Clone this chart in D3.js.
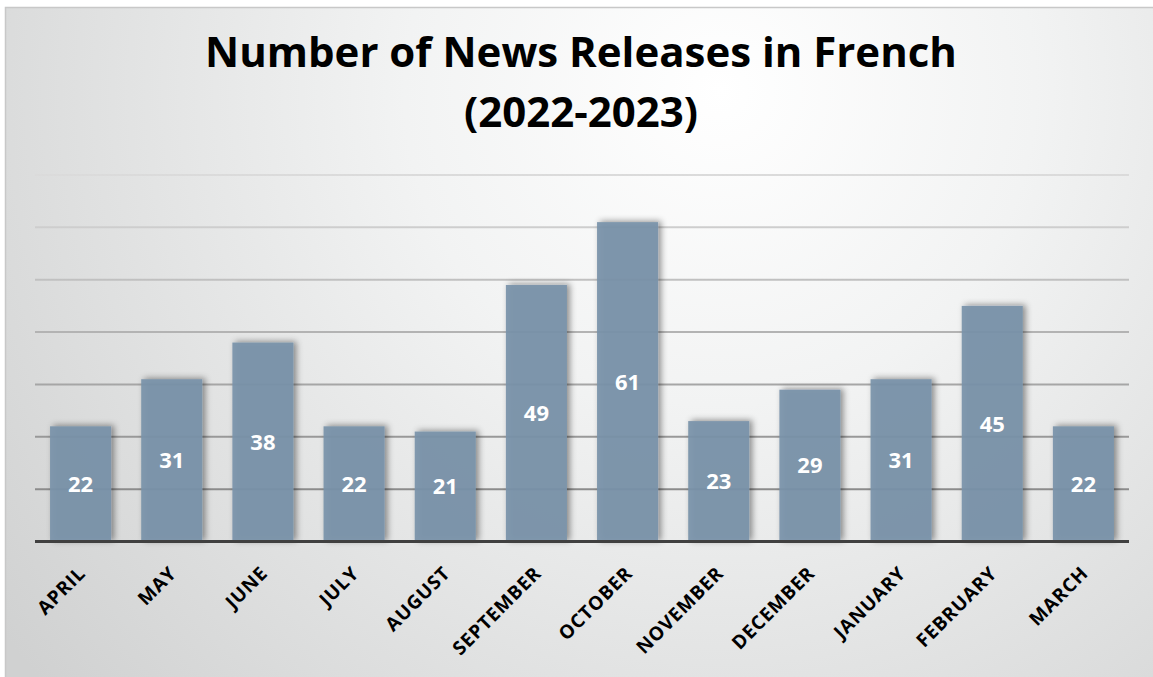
<!DOCTYPE html>
<html>
<head>
<meta charset="utf-8">
<script src="https://cdn.jsdelivr.net/npm/d3@7"></script>
<style>
  html, body { margin: 0; padding: 0; background: #ffffff; }
  svg { display: block; }
</style>
</head>
<body>
<svg id="chart" width="1153" height="677"></svg>
<script>
const months = ["APRIL", "MAY", "JUNE", "JULY", "AUGUST", "SEPTEMBER", "OCTOBER",
                "NOVEMBER", "DECEMBER", "JANUARY", "FEBRUARY", "MARCH"];
const releases = [22, 31, 38, 22, 21, 49, 61, 23, 29, 31, 45, 22];
const gridTicks = [10, 20, 30, 40, 50, 60, 70];
const titleLines = ["Number of News Releases in French", "(2022-2023)"];

const W = 1153, H = 677;
const svg = d3.select("#chart");
const defs = svg.append("defs");

const bg = defs.append("radialGradient").attr("id", "bg")
  .attr("gradientUnits", "userSpaceOnUse")
  .attr("cx", 720).attr("cy", 90).attr("r", 900);
bg.append("stop").attr("offset", "0").attr("stop-color", "#ffffff");
bg.append("stop").attr("offset", "0.35").attr("stop-color", "#f2f3f3");
bg.append("stop").attr("offset", "1").attr("stop-color", "#d0d1d1");

const gg = defs.append("linearGradient").attr("id", "gridGrad")
  .attr("gradientUnits", "userSpaceOnUse")
  .attr("x1", 0).attr("y1", 170).attr("x2", 0).attr("y2", 495);
gg.append("stop").attr("offset", "0").attr("stop-color", "#dcdcdc");
gg.append("stop").attr("offset", "1").attr("stop-color", "#8a8a8a");

const sh = defs.append("filter").attr("id", "shadow")
  .attr("x", "-30%").attr("y", "-30%").attr("width", "160%").attr("height", "160%");
sh.append("feDropShadow").attr("dx", 3).attr("dy", -1).attr("stdDeviation", 3)
  .attr("flood-color", "#000").attr("flood-opacity", 0.45);

svg.append("rect").attr("x", 0).attr("y", 0).attr("width", W).attr("height", H).attr("fill", "#ffffff");
svg.append("rect").attr("x", 5.5).attr("y", 7.5).attr("width", W + 10).attr("height", H + 10)
  .attr("fill", "url(#bg)").attr("stroke", "#c8c8c8").attr("stroke-width", 1.5);

const x = d3.scaleBand().domain(months).range([35, 1129]).paddingInner(0.33).paddingOuter(0.165);
const y = d3.scaleLinear().domain([0, 70]).range([541.5, 175]);

// gridlines
svg.append("g").selectAll("line").data(gridTicks).join("line")
  .attr("x1", 35).attr("x2", 1129)
  .attr("y1", d => y(d)).attr("y2", d => y(d))
  .attr("stroke", "url(#gridGrad)").attr("stroke-width", 2);

// bars
svg.append("g").selectAll("rect").data(releases).join("rect")
  .attr("x", (d, i) => x(months[i]))
  .attr("width", x.bandwidth())
  .attr("y", d => y(d))
  .attr("height", d => y(0) - y(d))
  .attr("fill", "#7a93a9")
  .attr("fill-opacity", 0.92)
  .attr("filter", "url(#shadow)");

// baseline axis
const xAxis = d3.axisBottom(x).tickSize(0).tickPadding(0);
const gx = svg.append("g").attr("transform", `translate(0,${y(0)})`).call(xAxis);
gx.select(".domain").attr("stroke", "#404040").attr("stroke-width", 3)
  .attr("d", "M35,0H1129");
gx.selectAll(".tick text")
  .attr("transform", "translate(6,33) rotate(-45)")
  .attr("text-anchor", "end")
  .attr("dy", 0)
  .attr("y", 0)
  .attr("font-family", "'Open Sans', sans-serif")
  .attr("font-weight", "bold")
  .attr("font-size", 19)
  .attr("letter-spacing", 0.8)
  .attr("fill", "#000");

// value labels
svg.append("g").selectAll("text").data(releases).join("text")
  .attr("x", (d, i) => x(months[i]) + x.bandwidth() / 2)
  .attr("y", d => (y(d) + y(0)) / 2 + 2)
  .attr("text-anchor", "middle")
  .attr("dominant-baseline", "middle")
  .attr("font-family", "'Open Sans', sans-serif")
  .attr("font-weight", "bold")
  .attr("font-size", 22)
  .attr("fill", "#ffffff")
  .text(d => d);

// title
const title = svg.append("g");
const t1 = title.append("text").attr("x", 581).attr("y", 67)
  .attr("text-anchor", "middle")
  .attr("font-family", "'Open Sans', sans-serif").attr("font-weight", "bold")
  .attr("font-size", 36).attr("fill", "#000").text(titleLines[0]);
let fs = 36;
const target = 752;
const w0 = t1.node().getComputedTextLength();
fs = fs * target / w0;
t1.attr("font-size", fs);
title.append("text").attr("x", 581).attr("y", 127)
  .attr("text-anchor", "middle")
  .attr("font-family", "'Open Sans', sans-serif").attr("font-weight", "bold")
  .attr("font-size", fs).attr("fill", "#000").text(titleLines[1]);
</script>
</body>
</html>
